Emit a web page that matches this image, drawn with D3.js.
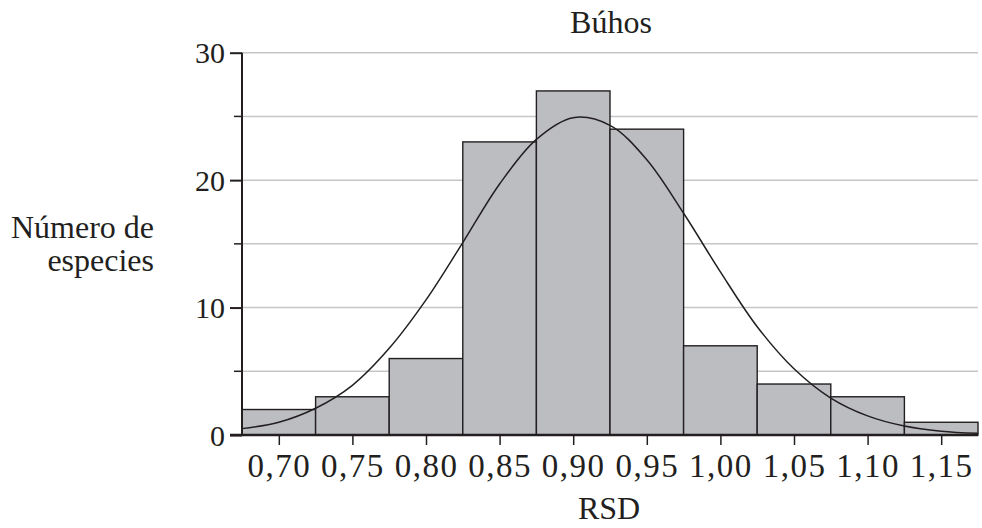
<!DOCTYPE html>
<html>
<head>
<meta charset="utf-8">
<script src="https://cdn.jsdelivr.net/npm/d3@7"></script>
<style>
  body { margin: 0; background: #fff; }
  text { font-family: "Liberation Serif", "Times New Roman", serif; fill: #231f20; }
</style>
</head>
<body>
<div id="chart"></div>
<script>
const width = 982;
const height = 528;

// histogram bins (centre of bin) and counts
const binCenters = [0.70, 0.75, 0.80, 0.85, 0.90, 0.95, 1.00, 1.05, 1.10, 1.15];
const counts = [2, 3, 6, 23, 27, 24, 7, 4, 3, 1];
const binWidth = 0.05;

// fitted curve
const curveX = [0.675, 0.70, 0.725, 0.75, 0.775, 0.80, 0.825, 0.85, 0.875, 0.90, 0.925,
                0.95, 0.975, 1.00, 1.025, 1.05, 1.075, 1.10, 1.125, 1.15, 1.175];
const curveY = [0.5, 1.0, 2.1, 3.9, 6.8, 10.6, 15.1, 19.7, 23.2, 24.9, 24.3,
                21.6, 17.4, 12.8, 8.5, 5.2, 2.9, 1.5, 0.7, 0.3, 0.13];

const yMajor = [0, 10, 20, 30];
const yMinor = [5, 15, 25];
const gridValues = [5, 10, 15, 20, 25, 30];

const svg = d3.select("#chart")
    .append("svg")
    .attr("width", width)
    .attr("height", height);

const x = d3.scaleLinear().domain([0.675, 1.175]).range([242, 978]);
const y = d3.scaleLinear().domain([0, 30]).range([435, 52.7]);

const locale = d3.formatLocale({decimal: ",", thousands: ".", grouping: [3], currency: ["", "€"]});
const fmt = locale.format(".2f");

// gridlines
svg.selectAll(".grid")
    .data(gridValues)
    .enter().append("line")
    .attr("x1", x(0.675))
    .attr("x2", x(1.175))
    .attr("y1", d => y(d))
    .attr("y2", d => y(d))
    .attr("stroke", "#c6c6c8")
    .attr("stroke-width", 1.5);

// bars
svg.selectAll(".bar")
    .data(binCenters)
    .enter().append("rect")
    .attr("x", d => x(d - binWidth / 2))
    .attr("width", d => x(d + binWidth / 2) - x(d - binWidth / 2))
    .attr("y", (d, i) => y(counts[i]))
    .attr("height", (d, i) => y(0) - y(counts[i]))
    .attr("fill", "#bcbdc1")
    .attr("stroke", "#231f20")
    .attr("stroke-width", 1.4);

// fitted curve
const line = d3.line()
    .x((d, i) => x(d))
    .y((d, i) => y(curveY[i]))
    .curve(d3.curveCatmullRom);

svg.append("path")
    .attr("d", line(curveX))
    .attr("fill", "none")
    .attr("stroke", "#231f20")
    .attr("stroke-width", 1.5);

// y axis
const yAxis = svg.append("g")
    .attr("transform", `translate(${x(0.675)},0)`)
    .call(d3.axisLeft(y).tickValues(yMajor).tickSize(12).tickPadding(5).tickFormat(d3.format("d")));
yAxis.select(".domain").remove();
yAxis.selectAll(".tick line").attr("stroke", "#231f20").attr("stroke-width", 2);
yAxis.selectAll(".tick text").style("font-size", "30px").attr("dy", "0.34em");

svg.selectAll(".minor")
    .data(yMinor)
    .enter().append("line")
    .attr("x1", x(0.675) - 8)
    .attr("x2", x(0.675))
    .attr("y1", d => y(d))
    .attr("y2", d => y(d))
    .attr("stroke", "#231f20")
    .attr("stroke-width", 1.5);

svg.append("line")
    .attr("x1", x(0.675))
    .attr("x2", x(0.675))
    .attr("y1", y(30))
    .attr("y2", y(0))
    .attr("stroke", "#231f20")
    .attr("stroke-width", 2);

// x axis
const xAxis = svg.append("g")
    .attr("transform", `translate(0,${y(0)})`)
    .call(d3.axisBottom(x).tickValues(binCenters).tickSize(10).tickFormat(fmt));
xAxis.select(".domain").remove();
xAxis.selectAll(".tick line").attr("stroke", "#231f20").attr("stroke-width", 1.5);
xAxis.selectAll(".tick text")
    .style("font-size", "33px")
    .style("letter-spacing", "1.5px")
    .attr("y", 42)
    .attr("dy", 0);

svg.append("line")
    .attr("x1", x(0.675) - 12)
    .attr("x2", x(1.175))
    .attr("y1", y(0))
    .attr("y2", y(0))
    .attr("stroke", "#231f20")
    .attr("stroke-width", 2.5);

// titles
svg.append("text")
    .attr("x", 611)
    .attr("y", 33)
    .attr("text-anchor", "middle")
    .style("font-size", "32px")
    .text("Búhos");

svg.append("text")
    .attr("x", 609)
    .attr("y", 519)
    .attr("text-anchor", "middle")
    .style("font-size", "32px")
    .text("RSD");

svg.append("text")
    .attr("x", 154)
    .attr("y", 238)
    .attr("text-anchor", "end")
    .style("font-size", "32px")
    .text("Número de");

svg.append("text")
    .attr("x", 154)
    .attr("y", 271)
    .attr("text-anchor", "end")
    .style("font-size", "32px")
    .text("especies");
</script>
</body>
</html>
